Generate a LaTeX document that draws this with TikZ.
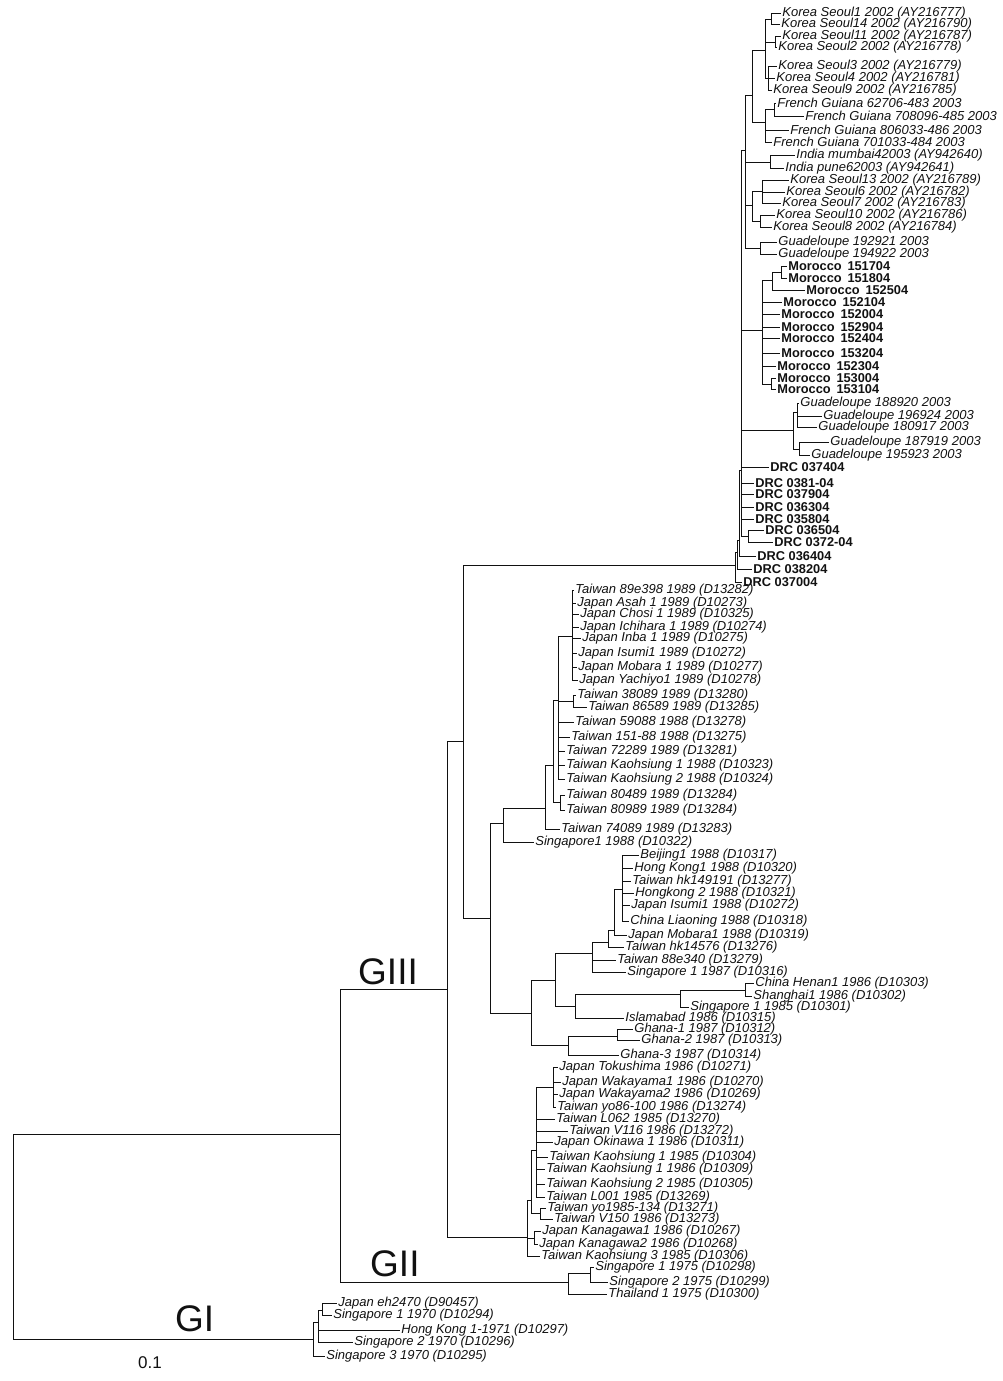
\documentclass[tikz,border=0pt]{standalone}
\usepackage{fontspec}
\setmainfont{Liberation Sans}
\usepackage{tikz}
\usetikzlibrary{positioning}
\definecolor{ink}{HTML}{111111}
\newcommand{\Mor}[1]{Morocco\hspace{.45em}#1}
\tikzset{
  every node/.style={text=ink},
  leaf/.style={anchor=west, inner sep=1.2pt, font=\fontsize{13}{13}\selectfont\itshape},
  leafB/.style={anchor=west, inner sep=1.2pt, font=\fontsize{12.8}{13}\selectfont\bfseries},
  branch/.style={draw=ink, line width=0.9pt},
  geno/.style={anchor=base west, inner sep=0pt, font=\fontsize{37}{40}\selectfont},
}

\begin{document}
\begin{tikzpicture}[x=1pt,y=-1pt]
\useasboundingbox (0,0) rectangle (1003,1381);

% =========================
% INTERNAL NODES (x = distance, y = row)
% =========================
\foreach \nm/\x/\y in {
  root/13/1237, n23/340/1134, g1/313/1339, gIa/318/1322, gIb/322/1310,
  g2/568/1282, gIIa/590/1273, g3/447/989, nP/463/741,
  nT/735/565, nT1/737/552, nT2/739/540, nT3/741/470, nD/748/536,
  nG/793/430, nGa/797/412, nGb/799/449,
  nM/762/330, nM1/772/280, nM3/781/272, nM2/771/384,
  nU/745/150, nK1/752/95, nKo/765/50, nKa/771/19, nKb/775/42, nKc/768/78,
  nF/765/122, nFa/774/109, nI/770/162,
  nK2/752/205, nK2a/762/191, nK2b/760/221, nGd/760/248,
  nX/490/918, nA/503/823, nA1/545/808, nA2/553/765, nA3/558/700,
  nA4/572/636, nA5/573/701, nA8/560/802,
  nC/531/1013, nGh/568/1045, nGh1/617/1036, nC1/555/980,
  nB/592/953, nB1/608/942, nB2/614/930, nB3/622/889,
  nI2/575/1006, nS/680/994, nS1/745/990,
  nJ/527/1237, nJ1/531/1200, nJ2/536/1150, nJ3/540/1213, nJ4/553/1087, nJk/534/1238}{
  \coordinate (\nm) at (\x,\y);
}

% =========================
% LEAVES (tip + label)
% =========================
\foreach \nm/\x/\y/\txt in {
  ks1/781/13/Korea Seoul1 2002 (AY216777),
  ks14/780/24/Korea Seoul14 2002 (AY216790),
  ks11/781/36/Korea Seoul11 2002 (AY216787),
  ks2/777/47/Korea Seoul2 2002 (AY216778),
  ks3/777/66/Korea Seoul3 2002 (AY216779),
  ks4/775/78/Korea Seoul4 2002 (AY216781),
  ks9/772/90/Korea Seoul9 2002 (AY216785),
  fg483/776/103/French Guiana 62706-483 2003,
  fg485/804/116/French Guiana 708096-485 2003,
  fg486/789/130/French Guiana 806033-486 2003,
  fg484/772/142/French Guiana 701033-484 2003,
  inm/795/155/India mumbai42003 (AY942640),
  inp/784/168/India pune62003 (AY942641),
  ks13/789/180/Korea Seoul13 2002 (AY216789),
  ks6/785/192/Korea Seoul6 2002 (AY216782),
  ks7/781/203/Korea Seoul7 2002 (AY216783),
  ks10/775/215/Korea Seoul10 2002 (AY216786),
  ks8/772/227/Korea Seoul8 2002 (AY216784),
  gd21/777/242/Guadeloupe 192921 2003,
  gd22/777/254/Guadeloupe 194922 2003,
  gd20/799/403/Guadeloupe 188920 2003,
  gd24/822/416/Guadeloupe 196924 2003,
  gd17/817/427/Guadeloupe 180917 2003,
  gd19/829/442/Guadeloupe 187919 2003,
  gd23/810/455/Guadeloupe 195923 2003,
  t89e/574/590/Taiwan 89e398 1989 (D13282),
  jas/576/603/Japan Asah 1 1989 (D10273),
  jch/579/614/Japan Chosi 1 1989 (D10325),
  jic/579/627/Japan Ichihara 1 1989 (D10274),
  jin/581/638/Japan Inba 1 1989 (D10275),
  jis/577/653/Japan Isumi1 1989 (D10272),
  jmo/577/667/Japan Mobara 1 1989 (D10277),
  jya/578/680/Japan Yachiyo1 1989 (D10278),
  t380/576/695/Taiwan 38089 1989 (D13280),
  t865/587/707/Taiwan 86589 1989 (D13285),
  t590/574/722/Taiwan 59088 1988 (D13278),
  t151/570/737/Taiwan 151-88 1988 (D13275),
  t722/565/751/Taiwan 72289 1989 (D13281),
  tk1/565/765/Taiwan Kaohsiung 1 1988 (D10323),
  tk2/565/779/Taiwan Kaohsiung 2 1988 (D10324),
  t804/565/795/Taiwan 80489 1989 (D13284),
  t809/565/810/Taiwan 80989 1989 (D13284),
  t740/560/829/Taiwan 74089 1989 (D13283),
  s88/534/842/Singapore1 1988 (D10322),
  bj/639/855/Beijing1 1988 (D10317),
  hk1/633/868/Hong Kong1 1988 (D10320),
  thk/631/881/Taiwan hk149191 (D13277),
  hk2/634/893/Hongkong 2 1988 (D10321),
  jis88/630/905/Japan Isumi1 1988 (D10272),
  cli/629/921/China Liaoning 1988 (D10318),
  jmo88/627/935/Japan Mobara1 1988 (D10319),
  thk2/624/947/Taiwan hk14576 (D13276),
  t88/616/960/Taiwan 88e340 (D13279),
  s87/626/972/Singapore 1 1987 (D10316),
  che/754/983/China Henan1 1986 (D10303),
  sha/752/996/Shanghai1 1986 (D10302),
  s85/689/1007/Singapore 1 1985 (D10301),
  isl/624/1018/Islamabad 1986 (D10315),
  gh1/633/1029/Ghana-1 1987 (D10312),
  gh2/640/1040/Ghana-2 1987 (D10313),
  gh3/619/1055/Ghana-3 1987 (D10314),
  jto/558/1067/Japan Tokushima 1986 (D10271),
  jwa1/561/1082/Japan Wakayama1 1986 (D10270),
  jwa2/558/1094/Japan Wakayama2 1986 (D10269),
  tyo86/556/1107/Taiwan yo86-100 1986 (D13274),
  tl062/555/1119/Taiwan L062 1985 (D13270),
  tv116/568/1131/Taiwan V116 1986 (D13272),
  jok/553/1142/Japan Okinawa 1 1986 (D10311),
  tk185/548/1157/Taiwan Kaohsiung 1 1985 (D10304),
  tk186/545/1169/Taiwan Kaohsiung 1 1986 (D10309),
  tk285/545/1184/Taiwan Kaohsiung 2 1985 (D10305),
  tl001/545/1197/Taiwan L001 1985 (D13269),
  tyo85/546/1208/Taiwan yo1985-134 (D13271),
  tv150/553/1219/Taiwan V150 1986 (D13273),
  jka1/541/1231/Japan Kanagawa1 1986 (D10267),
  jka2/538/1244/Japan Kanagawa2 1986 (D10268),
  tk385/540/1256/Taiwan Kaohsiung 3 1985 (D10306),
  s175/594/1267/Singapore 1 1975 (D10298),
  s275/608/1282/Singapore 2 1975 (D10299),
  th75/607/1294/Thailand 1 1975 (D10300),
  jeh/337/1303/Japan eh2470 (D90457),
  s170/332/1315/Singapore 1 1970 (D10294),
  hk71/400/1330/Hong Kong 1-1971 (D10297),
  s270/353/1342/Singapore 2 1970 (D10296),
  s370/325/1356/Singapore 3 1970 (D10295)}{
  \coordinate (\nm) at (\x,\y);
  \node[leaf] (\nm-l) at (\nm) {\txt};
}

% bold: Morocco + DRC 2004 samples
\foreach \nm/\x/\y/\txt in {
  mo17/787/266/\Mor{151704}, mo18/787/278/\Mor{151804}, mo25/805/290/\Mor{152504},
  mo21/782/302/\Mor{152104}, mo20/780/314/\Mor{152004}, mo29/780/327/\Mor{152904},
  mo24/780/338/\Mor{152404}, mo32/780/353/\Mor{153204}, mo23/776/366/\Mor{152304},
  mo30/776/378/\Mor{153004}, mo31/776/389/\Mor{153104},
  dr74/769/467/DRC 037404, dr81/754/483/DRC 0381-04, dr79/754/494/DRC 037904,
  dr63/754/507/DRC 036304, dr58/754/519/DRC 035804, dr65/764/530/DRC 036504,
  dr72/773/542/DRC 0372-04, dr64/756/556/DRC 036404, dr82/752/569/DRC 038204,
  dr70/742/582/DRC 037004}{
  \coordinate (\nm) at (\x,\y);
  \node[leafB] (\nm-l) at (\nm) {\txt};
}

% =========================
% BRANCHES (parent |- child)
% =========================
\foreach \p/\c in {
  root/n23, root/g1, n23/g3, n23/g2,
  g1/gIa, g1/s370, gIa/gIb, gIa/hk71, gIa/s270, gIb/jeh, gIb/s170,
  g2/gIIa, g2/th75, gIIa/s175, gIIa/s275,
  g3/nP, g3/nJ, nP/nT, nP/nX,
  nT/dr70, nT/nT1, nT1/dr82, nT1/nT2, nT2/dr64, nT2/nT3,
  nT3/nD, nT3/dr58, nT3/dr63, nT3/dr79, nT3/dr81, nT3/dr74, nT3/nG, nT3/nM, nT3/nU,
  nD/dr65, nD/dr72,
  nG/nGa, nG/nGb, nGa/gd20, nGa/gd24, nGa/gd17, nGb/gd19, nGb/gd23,
  nM/nM1, nM/mo21, nM/mo20, nM/mo29, nM/mo24, nM/mo32, nM/mo23, nM/nM2,
  nM1/nM3, nM1/mo25, nM3/mo17, nM3/mo18, nM2/mo30, nM2/mo31,
  nU/nK1, nU/nI, nU/nK2, nU/nGd,
  nK1/nKo, nK1/nF, nKo/nKa, nKo/nKb, nKo/nKc,
  nKa/ks1, nKa/ks14, nKb/ks11, nKb/ks2, nKc/ks3, nKc/ks4, nKc/ks9,
  nF/nFa, nF/fg486, nF/fg484, nFa/fg483, nFa/fg485,
  nI/inm, nI/inp,
  nK2/nK2a, nK2/nK2b, nK2a/ks13, nK2a/ks6, nK2a/ks7, nK2b/ks10, nK2b/ks8,
  nGd/gd21, nGd/gd22,
  nX/nA, nX/nC,
  nA/nA1, nA/s88, nA1/nA2, nA1/t740, nA2/nA3, nA2/nA8,
  nA3/nA4, nA3/nA5, nA3/t590, nA3/t151, nA3/t722, nA3/tk1, nA3/tk2,
  nA4/t89e, nA4/jas, nA4/jch, nA4/jic, nA4/jin, nA4/jis, nA4/jmo, nA4/jya,
  nA5/t380, nA5/t865, nA8/t804, nA8/t809,
  nC/nC1, nC/nGh, nGh/nGh1, nGh/gh3, nGh1/gh1, nGh1/gh2,
  nC1/nB, nC1/nI2, nI2/nS, nI2/isl, nS/nS1, nS/s85, nS1/che, nS1/sha,
  nB/nB1, nB/t88, nB/s87, nB1/nB2, nB1/thk2, nB2/nB3, nB2/jmo88,
  nB3/bj, nB3/hk1, nB3/thk, nB3/hk2, nB3/jis88, nB3/cli,
  nJ/nJ1, nJ/nJk, nJ/tk385, nJ1/nJ2, nJ1/nJ3, nJ3/tyo85, nJ3/tv150,
  nJ2/nJ4, nJ2/tl062, nJ2/tv116, nJ2/jok, nJ2/tk185, nJ2/tk186, nJ2/tk285, nJ2/tl001,
  nJ4/jto, nJ4/jwa1, nJ4/jwa2, nJ4/tyo86, nJk/jka1, nJk/jka2}{
  \draw[branch] (\p) |- (\c);
}

% genotype labels + scale
\node[geno] (lGIII) at (358,984) {GIII};
\node[geno] (lGII)  at (370,1276) {GII};
\node[geno] (lGI)   at (175,1331) {GI};
\node[font=\fontsize{17}{18}\selectfont] (scale) at (150,1363) {0.1};

\end{tikzpicture}
\end{document}
